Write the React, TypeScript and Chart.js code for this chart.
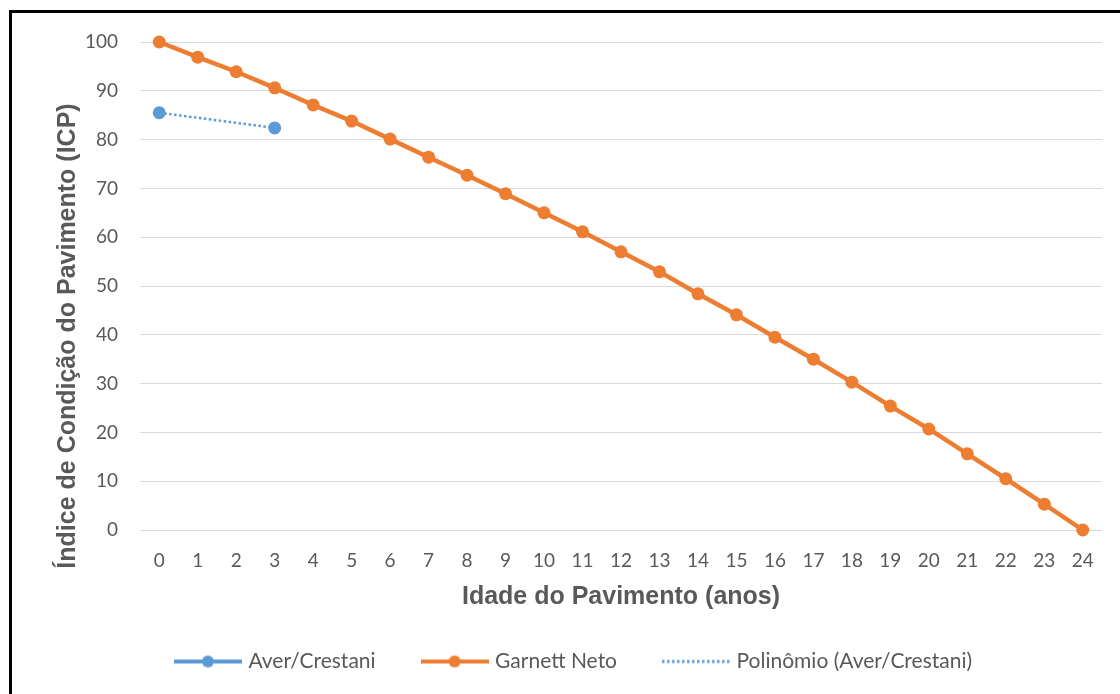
import React, { useEffect, useRef } from "react";
import { Chart, registerables } from "chart.js";

Chart.register(...registerables);

const ages = ["0","1","2","3","4","5","6","7","8","9","10","11","12","13","14","15","16","17","18","19","20","21","22","23","24"];
const averCrestani = [85.5, null, null, 82.4];
const polinomioAverCrestani = [85.5, null, null, 82.4];
const garnettNeto = [100, 96.9, 93.9, 90.6, 87.1, 83.8, 80.1, 76.4, 72.7, 68.9, 65.0, 61.1, 57.0, 52.9, 48.4, 44.1, 39.5, 35.0, 30.3, 25.4, 20.7, 15.6, 10.5, 5.3, 0];
const yTicks = [0, 10, 20, 30, 40, 50, 60, 70, 80, 90, 100];
const seriesNames = ["Aver/Crestani", "Garnett Neto", "Polinômio (Aver/Crestani)"];
const xTitle = "Idade do Pavimento (anos)";
const yTitle = "Índice de Condição do Pavimento (ICP)";

const BLUE = "#5B9BD5";
const ORANGE = "#ED7D31";
const TEXT = "#595959";

function legendImage(color: string, dotted: boolean, withDot: boolean): HTMLCanvasElement {
  const c = document.createElement("canvas");
  c.width = 68;
  c.height = 14;
  const ctx = c.getContext("2d")!;
  ctx.strokeStyle = color;
  ctx.fillStyle = color;
  if (dotted) {
    ctx.lineWidth = 3;
    ctx.setLineDash([2.5, 2.5]);
  } else {
    ctx.lineWidth = 4;
  }
  ctx.beginPath();
  ctx.moveTo(0, 7);
  ctx.lineTo(68, 7);
  ctx.stroke();
  if (withDot) {
    ctx.setLineDash([]);
    ctx.beginPath();
    ctx.arc(34, 7, 6, 0, Math.PI * 2);
    ctx.fill();
  }
  return c;
}

export default function App() {
  const ref = useRef<HTMLCanvasElement | null>(null);

  useEffect(() => {
    if (!ref.current) return;
    const imgs = [
      legendImage(BLUE, false, true),
      legendImage(ORANGE, false, true),
      legendImage(BLUE, true, false),
    ];

    const yTitlePlugin = {
      id: "yTitlePlugin",
      afterDraw(chart: any) {
        const ctx = chart.ctx;
        ctx.save();
        ctx.translate(68, 336);
        ctx.rotate(-Math.PI / 2);
        ctx.font = "bold 25px 'Liberation Sans', Arial, sans-serif";
        ctx.fillStyle = TEXT;
        ctx.textAlign = "center";
        ctx.textBaseline = "middle";
        ctx.fillText(yTitle, 0, 0);
        ctx.restore();
      },
    };

    const chart = new Chart(ref.current, {
      type: "line",
      data: {
        labels: ages,
        datasets: [
          {
            label: seriesNames[0],
            data: averCrestani,
            borderColor: BLUE,
            backgroundColor: BLUE,
            borderWidth: 4,
            pointRadius: 6.5,
            pointBorderWidth: 0,
            pointBackgroundColor: BLUE,
            spanGaps: false,
            clip: false,
          } as any,
          {
            label: seriesNames[1],
            data: garnettNeto,
            borderColor: ORANGE,
            backgroundColor: ORANGE,
            borderWidth: 4.5,
            pointRadius: 6.5,
            pointBorderWidth: 0,
            pointBackgroundColor: ORANGE,
            clip: false,
          } as any,
          {
            label: seriesNames[2],
            data: polinomioAverCrestani,
            borderColor: BLUE,
            backgroundColor: BLUE,
            borderWidth: 2.5,
            borderDash: [2.5, 2.5],
            pointRadius: 0,
            spanGaps: true,
            clip: false,
          } as any,
        ],
      },
      options: {
        animation: false,
        responsive: false,
        maintainAspectRatio: false,
        layout: { padding: { left: 48, right: 18, top: 42, bottom: 12 } },
        plugins: {
          tooltip: { enabled: false },
          legend: {
            position: "bottom",
            labels: {
              usePointStyle: true,
              pointStyleWidth: 60,
              padding: 49,
              color: TEXT,
              font: { family: "Lato, 'Noto Sans', sans-serif", size: 21 },
              generateLabels: (c: any) => {
                const items = (Chart.defaults.plugins.legend.labels as any).generateLabels(c);
                items.forEach((it: any, i: number) => {
                  it.pointStyle = imgs[i];
                });
                return items;
              },
            },
          },
        },
        scales: {
          x: {
            type: "category",
            offset: true,
            grid: { display: false, drawTicks: false },
            border: { display: false },
            ticks: {
              color: TEXT,
              font: { family: "Lato, 'Noto Sans', sans-serif", size: 19 },
              padding: 19,
              maxRotation: 0,
              autoSkip: false,
            },
            title: {
              display: true,
              text: xTitle,
              color: TEXT,
              font: { family: "'Liberation Sans', Arial, sans-serif", size: 25, weight: "bold" },
              padding: { top: 0, bottom: -10 },
            },
            afterFit: (s: any) => {
              s.height = 72;
            },
          },
          y: {
            min: 0,
            max: 100,
            afterBuildTicks: (s: any) => {
              s.ticks = yTicks.map((v) => ({ value: v }));
            },
            grid: { color: "#d9d9d9", lineWidth: 1, drawTicks: false },
            border: { display: false },
            ticks: {
              color: TEXT,
              font: { family: "Lato, 'Noto Sans', sans-serif", size: 19 },
              padding: 22,
            },
            afterFit: (s: any) => {
              s.width = 92;
            },
          },
        },
      },
      plugins: [yTitlePlugin],
    } as any);

    return () => chart.destroy();
  }, []);

  return (
    <div
      style={{
        position: "fixed",
        left: 0,
        top: 0,
        width: 1120,
        height: 694,
        overflow: "hidden",
        background: "#fff",
      }}
    >
      <div
        style={{
          position: "absolute",
          left: 9,
          top: 10,
          width: 1200,
          height: 800,
          borderLeft: "3px solid #000",
          borderTop: "3px solid #000",
        }}
      />
      <canvas
        ref={ref}
        width={1120}
        height={694}
        style={{ position: "absolute", left: 0, top: 0, width: 1120, height: 694 }}
      />
    </div>
  );
}
